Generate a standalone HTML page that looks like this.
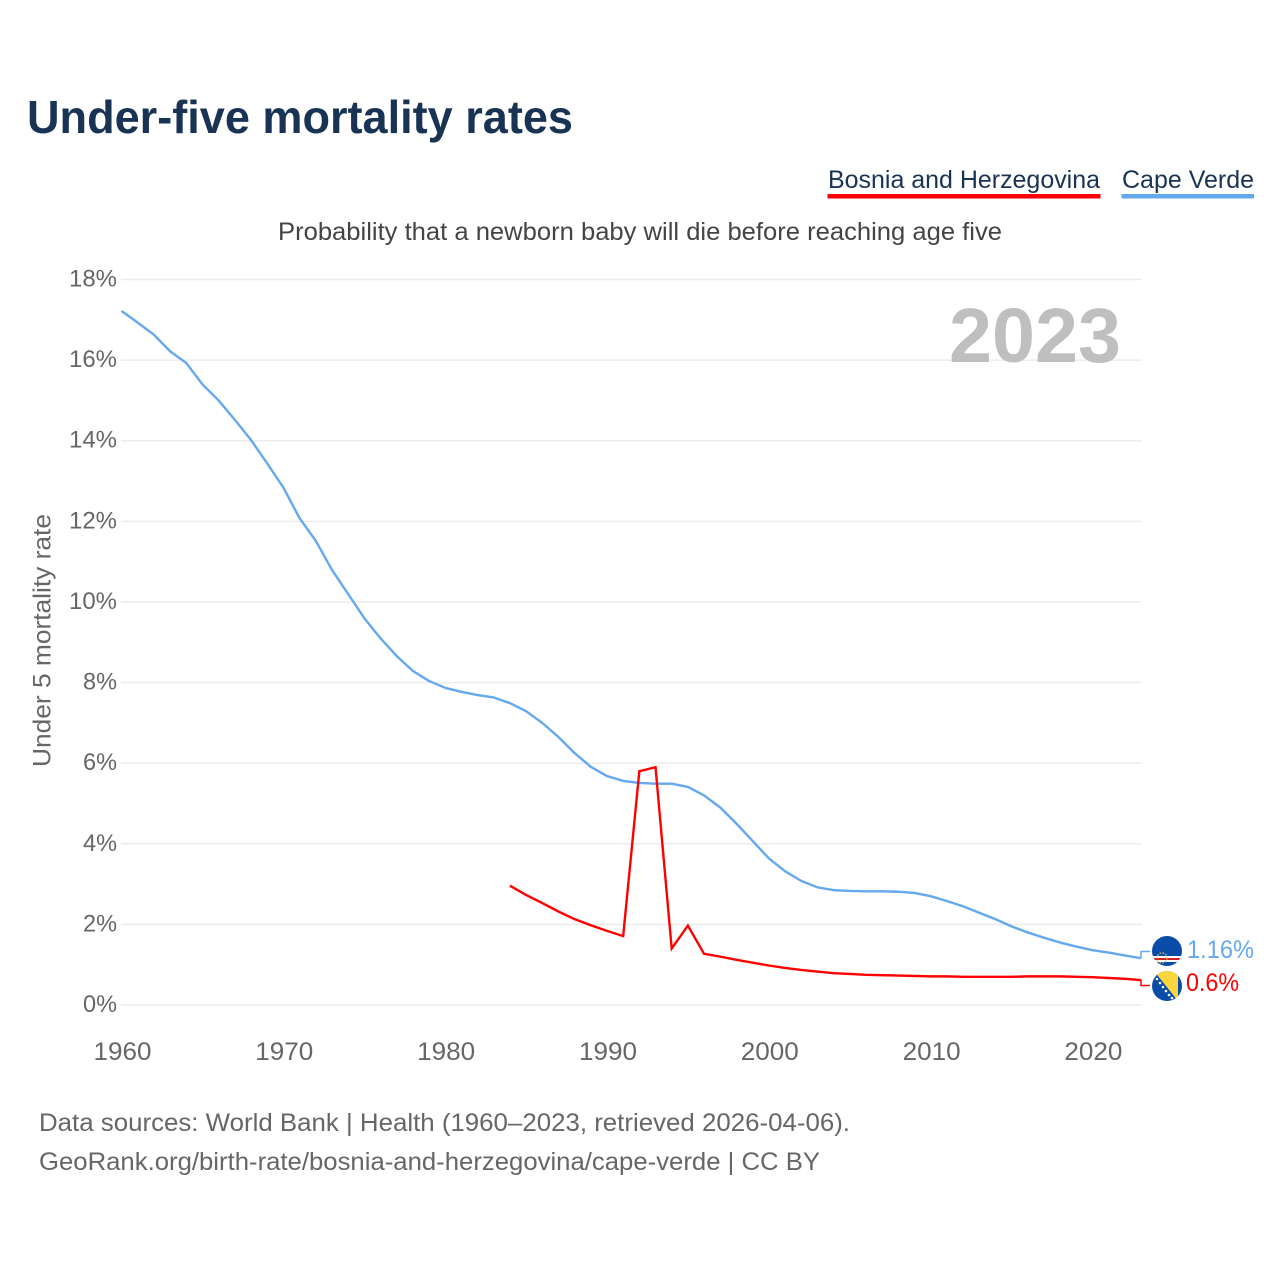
<!DOCTYPE html>
<html lang="en">
<head>
<meta charset="utf-8">
<title>Under-five mortality rates</title>
<style>
html,body{margin:0;padding:0;background:#fff;}
svg{display:block;}
text{font-family:"Liberation Sans",sans-serif;}
</style>
</head>
<body>
<svg id="chart" xmlns="http://www.w3.org/2000/svg" width="1280" height="1280" viewBox="0 0 1280 1280">
  <rect width="1280" height="1280" fill="#ffffff"/>
  <text x="27" y="133" font-size="46" font-weight="700" fill="#193354" textLength="546" lengthAdjust="spacingAndGlyphs">Under-five mortality rates</text>

  <g>
    <text x="828" y="188" font-size="25" fill="#193354" textLength="272" lengthAdjust="spacingAndGlyphs">Bosnia and Herzegovina</text>
    <rect x="827.5" y="194" width="273" height="4.5" fill="#ff0000"/>
  </g>
  <g>
    <text x="1122" y="188" font-size="25" fill="#193354" textLength="132" lengthAdjust="spacingAndGlyphs">Cape Verde</text>
    <rect x="1121.5" y="194" width="132.5" height="4.5" fill="#64a8ee"/>
  </g>

  <text x="278" y="240" font-size="25" fill="#444444" textLength="724" lengthAdjust="spacingAndGlyphs">Probability that a newborn baby will die before reaching age five</text>
  <text transform="translate(50.5,767) rotate(-90)" x="0" y="0" font-size="25" fill="#666666" textLength="253" lengthAdjust="spacingAndGlyphs">Under 5 mortality rate</text>

  <g id="grid"></g>
  <g id="yticks"></g>
  <g id="xticks"></g>

  <text x="949" y="362" font-size="77" font-weight="700" fill="#bfbfbf" textLength="172" lengthAdjust="spacingAndGlyphs">2023</text>

  <g id="series"></g>

  <defs>
    <clipPath id="clip-cv"><circle cx="1167" cy="951" r="15"/></clipPath>
    <clipPath id="clip-ba"><circle cx="1167" cy="986" r="15"/></clipPath>
  </defs>

  <g clip-path="url(#clip-cv)">
    <rect x="1152" y="936" width="30" height="30" fill="#0a4da8"/>
    <rect x="1152" y="956" width="30" height="6" fill="#ffffff"/>
    <rect x="1152" y="958" width="30" height="2" fill="#cf2027"/>
    <circle cx="1162" cy="958" r="5" fill="none" stroke="#e8c84a" stroke-width="1.2" stroke-dasharray="1.5 1.5"/>
  </g>
  <g clip-path="url(#clip-ba)">
    <rect x="1152" y="971" width="30" height="30" fill="#0a4da8"/>
    <polygon points="1154,971 1178,971 1178,1001" fill="#fdd53f"/>
    <circle cx="1157" cy="979" r="1.3" fill="#fff"/>
    <circle cx="1160" cy="983" r="1.3" fill="#fff"/>
    <circle cx="1163" cy="987" r="1.3" fill="#fff"/>
    <circle cx="1166" cy="991" r="1.3" fill="#fff"/>
    <circle cx="1169" cy="995" r="1.3" fill="#fff"/>
    <circle cx="1172" cy="998" r="1.3" fill="#fff"/>
  </g>

  <text x="1187" y="958" font-size="25" fill="#64a8ee" textLength="67" lengthAdjust="spacingAndGlyphs">1.16%</text>
  <text x="1186" y="991" font-size="25" fill="#ff0000" textLength="53" lengthAdjust="spacingAndGlyphs">0.6%</text>

  <text x="39" y="1131" font-size="25" fill="#666666" textLength="811" lengthAdjust="spacingAndGlyphs">Data sources: World Bank | Health (1960–2023, retrieved 2026-04-06).</text>
  <text x="39" y="1170" font-size="25" fill="#666666" textLength="781" lengthAdjust="spacingAndGlyphs">GeoRank.org/birth-rate/bosnia-and-herzegovina/cape-verde | CC BY</text>
</svg>
<script>
const yTickValues = [0, 2, 4, 6, 8, 10, 12, 14, 16, 18];
const xTickValues = [1960, 1970, 1980, 1990, 2000, 2010, 2020];
const capeVerdeStartYear = 1960;
const capeVerdeValues = [
  17.22, 16.93, 16.63, 16.22, 15.93, 15.40, 15.00, 14.52, 14.02, 13.44,
  12.84, 12.08, 11.52, 10.80, 10.20, 9.60, 9.10, 8.66, 8.29, 8.04,
  7.87, 7.77, 7.69, 7.63, 7.49, 7.29, 7.00, 6.65, 6.25, 5.91,
  5.68, 5.56, 5.51, 5.49, 5.49, 5.41, 5.20, 4.90, 4.50, 4.07,
  3.64, 3.32, 3.08, 2.92, 2.85, 2.83, 2.82, 2.82, 2.81, 2.78,
  2.70, 2.58, 2.45, 2.29, 2.13, 1.95, 1.80, 1.67, 1.55, 1.45,
  1.36, 1.30, 1.23, 1.16
];
const bosniaStartYear = 1984;
const bosniaValues = [
  2.96, 2.73, 2.53, 2.32, 2.13, 1.98, 1.84, 1.71, 5.80, 5.90,
  1.40, 1.97, 1.27, 1.20, 1.12, 1.05, 0.98, 0.92, 0.87, 0.83,
  0.79, 0.77, 0.75, 0.74, 0.73, 0.72, 0.71, 0.71, 0.70, 0.70,
  0.70, 0.70, 0.71, 0.71, 0.71, 0.70, 0.69, 0.67, 0.65, 0.62
];

const NS = 'http://www.w3.org/2000/svg';
const xScale = function (year) { return 121.5 + (year - 1960) * (1141 - 121.5) / 63; };
const yScale = function (value) { return 1005 - value * (1005 - 279.5) / 18; };

function make(tag, parent) {
  const el = document.createElementNS(NS, tag);
  parent.appendChild(el);
  return el;
}

const gridGroup = document.getElementById('grid');
const yTickGroup = document.getElementById('yticks');
yTickValues.forEach(function (v) {
  const line = make('line', gridGroup);
  
  
  line.setAttribute('x1', 121);
  line.setAttribute('x2', 1141.5);
  line.setAttribute('y1', yScale(v));
  line.setAttribute('y2', yScale(v));
  line.setAttribute('stroke', '#ececec');
  line.setAttribute('stroke-width', 1.5);

  const label = make('text', yTickGroup);
  
  
  label.setAttribute('x', 117);
  label.setAttribute('y', yScale(v) + 7);
  label.setAttribute('text-anchor', 'end');
  label.setAttribute('font-size', 24);
  label.setAttribute('fill', '#666666');
  label.setAttribute('textLength', v >= 10 ? 48 : 34);
  label.setAttribute('lengthAdjust', 'spacingAndGlyphs');
  label.textContent = v + '%';
});

const xTickGroup = document.getElementById('xticks');
xTickValues.forEach(function (year) {
  const label = make('text', xTickGroup);
  
  
  label.setAttribute('x', xScale(year) + 1);
  label.setAttribute('y', 1060);
  label.setAttribute('text-anchor', 'middle');
  label.setAttribute('font-size', 25);
  label.setAttribute('fill', '#666666');
  label.setAttribute('textLength', 58);
  label.setAttribute('lengthAdjust', 'spacingAndGlyphs');
  label.textContent = year;
});

function pathFor(values, startYear) {
  return values.map(function (v, i) {
    return (i ? 'L' : 'M') + xScale(startYear + i).toFixed(2) + ' ' + yScale(v).toFixed(2);
  }).join(' ');
}

const seriesGroup = document.getElementById('series');

const cvLine = make('path', seriesGroup);


cvLine.setAttribute('d', pathFor(capeVerdeValues, capeVerdeStartYear));
cvLine.setAttribute('fill', 'none');
cvLine.setAttribute('stroke', '#64a8ee');
cvLine.setAttribute('stroke-width', 2.4);
cvLine.setAttribute('stroke-linejoin', 'round');

const baLine = make('path', seriesGroup);


baLine.setAttribute('d', pathFor(bosniaValues, bosniaStartYear));
baLine.setAttribute('fill', 'none');
baLine.setAttribute('stroke', '#ff0000');
baLine.setAttribute('stroke-width', 2.4);
baLine.setAttribute('stroke-linejoin', 'miter');

const cvEndYear = capeVerdeStartYear + capeVerdeValues.length - 1;
const baEndYear = bosniaStartYear + bosniaValues.length - 1;

const cvLeader = make('path', seriesGroup);


cvLeader.setAttribute('d', 'M' + xScale(cvEndYear) + ' ' + yScale(capeVerdeValues[capeVerdeValues.length - 1]) + ' V951.5 H1150');
cvLeader.setAttribute('fill', 'none');
cvLeader.setAttribute('stroke', '#64a8ee');
cvLeader.setAttribute('stroke-width', 1.5);

const baLeader = make('path', seriesGroup);


baLeader.setAttribute('d', 'M' + xScale(baEndYear) + ' ' + yScale(bosniaValues[bosniaValues.length - 1]) + ' V985.5 H1150');
baLeader.setAttribute('fill', 'none');
baLeader.setAttribute('stroke', '#ff0000');
baLeader.setAttribute('stroke-width', 1.5);
</script>
</body>
</html>
